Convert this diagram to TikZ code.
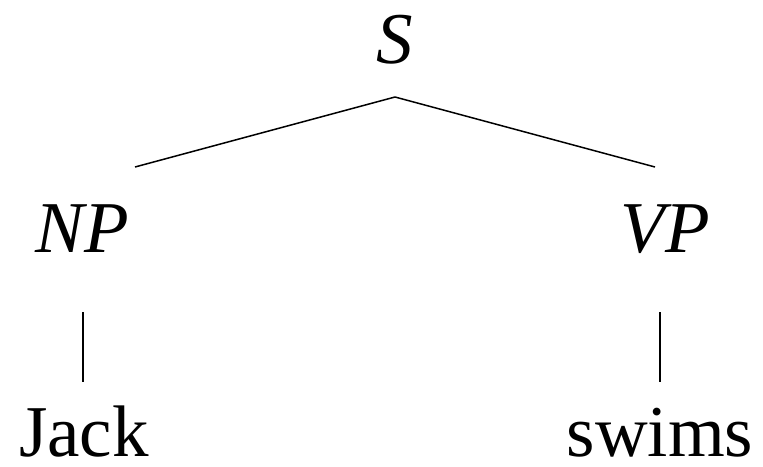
\documentclass[tikz,border=0pt]{standalone}
\usepackage{fontspec}
\setmainfont{Liberation Serif}
\usetikzlibrary{positioning}

\begin{document}
\begin{tikzpicture}[
  x=0.5pt, y=-0.5pt,
  word/.style={inner sep=0pt, anchor=base, text depth=0pt, font=\fontsize{36.5}{40}\selectfont},
  cat/.style={word, font=\fontsize{36.5}{40}\selectfont\itshape},
  branch/.style={line width=0.75pt}
]
\useasboundingbox (0,0) rectangle (763,466);
\node (s)  [cat]  at (395,63)  {S};
\node (np) [cat]  at (82,252)  {NP};
\node (vp) [cat]  at (665,252) {VP};
\node (jack)  [word] at (84,456)  {Jack};
\node (swims) [word] at (660,456) {swims};
\draw[branch] ([yshift=-17pt]s.base) -- ([xshift=26.5pt,yshift=42.5pt]np.base);
\draw[branch] ([yshift=-17pt]s.base) -- ([xshift=-5pt,yshift=42.5pt]vp.base);
\draw[branch] ([xshift=0.5pt,yshift=-30pt]np.base) -- ([xshift=-0.5pt,yshift=37pt]jack.base);
\draw[branch] ([xshift=-2.5pt,yshift=-30pt]vp.base) -- ([yshift=37pt]swims.base);
\end{tikzpicture}
\end{document}
